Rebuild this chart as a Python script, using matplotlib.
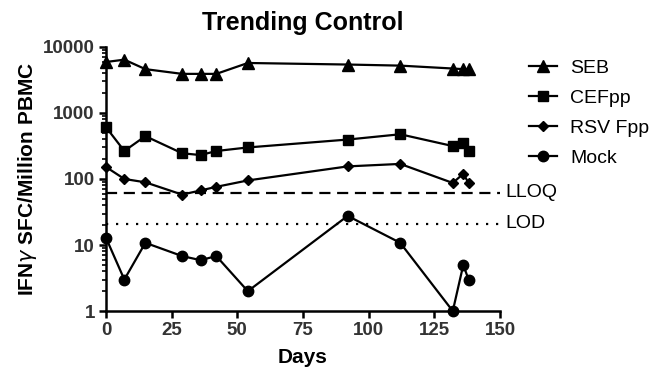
import matplotlib
matplotlib.use('Agg')
from matplotlib import pyplot as plt
from matplotlib.ticker import LogLocator, NullFormatter, FixedLocator

plt.rcParams['font.family'] = ['Liberation Sans', 'DejaVu Sans']

days = [0, 7, 15, 29, 36, 42, 54, 92, 112, 132, 136, 138]
seb = [5900, 6400, 4600, 3900, 3900, 3900, 5700, 5400, 5200, 4700, 4600, 4600]
cefpp = [610, 265, 445, 245, 230, 265, 300, 395, 475, 315, 345, 265]
rsv = [152, 100, 89, 58, 67, 76, 95, 155, 169, 87, 120, 87]
mock = [12.9, 3.0, 10.8, 6.8, 5.9, 6.8, 2.0, 27.6, 10.8, 1.0, 5.0, 3.0]
lloq = 62
lod = 21

fig = plt.figure(figsize=(6.58, 3.69), dpi=100)
ax = fig.add_axes([0.161, 0.157, 0.599, 0.716])

ax.plot(days, seb, c='black', lw=1.6, marker='^', ms=8, label='SEB', clip_on=False, zorder=3)
ax.plot(days, cefpp, c='black', lw=1.6, marker='s', ms=7.5, label='CEFpp', clip_on=False, zorder=3)
ax.plot(days, rsv, c='black', lw=1.6, marker='D', ms=5.5, label='RSV Fpp', clip_on=False, zorder=3)
ax.plot(days, mock, c='black', lw=1.6, marker='o', ms=7.5, label='Mock', clip_on=False, zorder=3)

ax.axhline(lloq, c='black', lw=1.6, ls=(0, (5, 3)))
ax.axhline(lod, c='black', lw=1.6, ls=(0, (1, 3.5)))
ax.text(152, lloq, 'LLOQ', va='center', ha='left', fontsize=14)
ax.text(152, lod, 'LOD', va='center', ha='left', fontsize=14)

ax.set_yscale('log')
ax.set_xlim(0, 150)
ax.set_ylim(1, 10000)
ax.xaxis.set_major_locator(FixedLocator([0, 25, 50, 75, 100, 125, 150]))
ax.yaxis.set_major_locator(FixedLocator([1, 10, 100, 1000, 10000]))
ax.set_yticklabels(['1', '10', '100', '1000', '10000'])
ax.yaxis.set_minor_locator(LogLocator(base=10, subs=range(2, 10)))
ax.yaxis.set_minor_formatter(NullFormatter())

for s in ['top', 'right']:
    ax.spines[s].set_visible(False)
for s in ['left', 'bottom']:
    ax.spines[s].set_linewidth(1.8)
ax.tick_params(axis='both', which='major', direction='out', length=5, width=1.8,
               labelsize=13.5, pad=3)
ax.tick_params(axis='y', which='minor', direction='out', length=3, width=1.2)
for lab in ax.get_xticklabels() + ax.get_yticklabels():
    lab.set_fontweight('bold')
    lab.set_color('#333333')

ax.set_xlabel('Days', fontsize=15, fontweight='bold', labelpad=6)
ax.set_ylabel(r'IFN$\gamma$ SFC/Million PBMC', fontsize=15, fontweight='bold', labelpad=3)
ax.set_title('Trending Control', fontsize=18, fontweight='bold', pad=12)

ax.legend(loc='upper left', bbox_to_anchor=(1.03, 1.02), frameon=False, fontsize=14,
          handlelength=1.4, handletextpad=0.7, labelspacing=0.64)

plt.savefig('out.png', dpi=100)
